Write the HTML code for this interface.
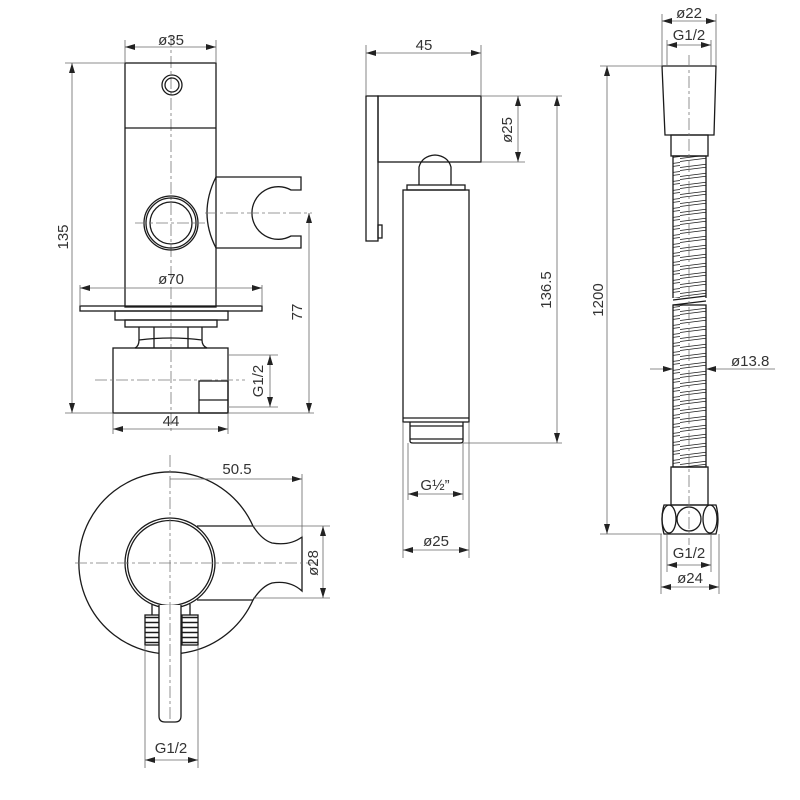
<!DOCTYPE html>
<html><head><meta charset="utf-8"><style>
html,body{margin:0;padding:0;background:#fff}
svg{display:block}
text{font-family:"Liberation Sans",sans-serif;font-size:15px;fill:#333}
.o{fill:none;stroke:#1a1a1a;stroke-width:1.3}
.ow{fill:#fff;stroke:#1a1a1a;stroke-width:1.3}
.d{fill:none;stroke:#666;stroke-width:0.8}
.c{fill:none;stroke:#777;stroke-width:0.8;stroke-dasharray:12 3 3 3}
</style></head><body>
<svg width="800" height="800" viewBox="0 0 800 800" xmlns="http://www.w3.org/2000/svg">
<defs>
<marker id="a" viewBox="0 0 10 6" refX="10" refY="3" markerWidth="10" markerHeight="6" orient="auto-start-reverse" markerUnits="userSpaceOnUse"><path d="M0,0L10,3L0,6z" fill="#222"/></marker>
<pattern id="coil" patternUnits="userSpaceOnUse" x="0" y="0" width="40" height="9">
<path d="M0,5.5L40,0.5M0,8.5L40,3.5" stroke="#1a1a1a" stroke-width="0.8" fill="none"/>
</pattern>
<pattern id="thr" patternUnits="userSpaceOnUse" x="0" y="615" width="40" height="5">
<path d="M0,2.5H40" stroke="#1a1a1a" stroke-width="1.6" fill="none"/>
</pattern>
</defs>

<!-- ===== LEFT FRONT VIEW ===== -->
<line class="c" x1="171" y1="35" x2="171" y2="432"/>
<rect class="o" x="125" y="63" width="91" height="244"/>
<line class="o" x1="125" y1="128" x2="216" y2="128"/>
<circle class="o" cx="172" cy="85" r="10"/><circle class="o" cx="172" cy="85" r="7"/>
<circle class="o" cx="171" cy="223" r="27"/><circle class="o" cx="171" cy="223" r="25"/><circle class="o" cx="171" cy="223" r="21"/>
<line class="c" x1="135" y1="223" x2="205" y2="223"/>
<path class="o" d="M216,177H301V190H291A26.3 26.3 0 1 0 291,236H301V248H216"/>
<path class="o" d="M216,177Q198,213 216,248"/>
<line class="c" x1="205" y1="213" x2="312" y2="213"/>
<rect class="o" x="80" y="306" width="182" height="5"/>
<rect class="o" x="115" y="311" width="113" height="9"/>
<rect class="o" x="125" y="320" width="92" height="7"/>
<path class="o" d="M139,327V340Q139,346 135,348H207Q202,346 202,340V327"/>
<line class="o" x1="154" y1="327" x2="154" y2="348"/><line class="o" x1="188" y1="327" x2="188" y2="348"/>
<path class="o" d="M139,340Q171,336 202,340"/>
<rect class="o" x="113" y="348" width="115" height="65"/>
<rect class="o" x="199" y="381" width="29" height="32"/>
<line class="o" x1="199" y1="400" x2="228" y2="400"/>
<line class="c" x1="95" y1="380" x2="245" y2="380"/>
<!-- dims -->
<line class="d" x1="125" y1="40" x2="125" y2="63"/><line class="d" x1="216" y1="40" x2="216" y2="63"/>
<line class="d" x1="125" y1="47" x2="216" y2="47" marker-start="url(#a)" marker-end="url(#a)"/>
<text x="171" y="45" text-anchor="middle">ø35</text>
<line class="d" x1="65" y1="63" x2="125" y2="63"/><line class="d" x1="65" y1="413" x2="113" y2="413"/>
<line class="d" x1="72" y1="63" x2="72" y2="413" marker-start="url(#a)" marker-end="url(#a)"/>
<text transform="translate(68,237) rotate(-90)" text-anchor="middle">135</text>
<line class="d" x1="80" y1="285" x2="80" y2="306"/><line class="d" x1="262" y1="285" x2="262" y2="306"/>
<line class="d" x1="80" y1="288" x2="262" y2="288" marker-start="url(#a)" marker-end="url(#a)"/>
<text x="171" y="284" text-anchor="middle">ø70</text>
<line class="d" x1="228" y1="355" x2="278" y2="355"/><line class="d" x1="228" y1="407" x2="278" y2="407"/>
<line class="d" x1="270" y1="355" x2="270" y2="407" marker-start="url(#a)" marker-end="url(#a)"/>
<text transform="translate(263,381) rotate(-90)" text-anchor="middle">G1/2</text>
<line class="d" x1="228" y1="413" x2="314" y2="413"/>
<line class="d" x1="309" y1="213" x2="309" y2="413" marker-start="url(#a)" marker-end="url(#a)"/>
<text transform="translate(302,312) rotate(-90)" text-anchor="middle">77</text>
<line class="d" x1="113" y1="413" x2="113" y2="434"/><line class="d" x1="228" y1="413" x2="228" y2="434"/>
<line class="d" x1="113" y1="429" x2="228" y2="429" marker-start="url(#a)" marker-end="url(#a)"/>
<text x="171" y="426" text-anchor="middle">44</text>

<!-- ===== TOP VIEW (bottom-left) ===== -->
<path class="o" d="M253,526A91 91 0 1 0 253,600"/>
<path class="o" d="M197,526H253Q262,540 272,543Q290,546 302,537V591Q290,580 272,583Q262,586 253,600H197"/>
<circle class="ow" cx="170" cy="563" r="45"/><circle class="o" cx="170" cy="563" r="42.5"/>
<line class="o" x1="152" y1="604" x2="152" y2="615"/><line class="o" x1="190" y1="604" x2="190" y2="615"/>
<rect x="145" y="615" width="14" height="30" fill="url(#thr)" stroke="#1a1a1a" stroke-width="1.3"/>
<rect x="182" y="615" width="16" height="30" fill="url(#thr)" stroke="#1a1a1a" stroke-width="1.3"/>
<path class="ow" d="M159,605V716Q159,722 165,722H175Q181,722 181,716V605"/>
<line class="c" x1="170" y1="455" x2="170" y2="722"/>
<line class="c" x1="75" y1="563" x2="320" y2="563"/>
<line class="d" x1="170" y1="479" x2="302" y2="479" marker-end="url(#a)"/>
<line class="d" x1="302" y1="474" x2="302" y2="537"/>
<text x="237" y="474" text-anchor="middle">50.5</text>
<line class="d" x1="253" y1="526" x2="330" y2="526"/><line class="d" x1="253" y1="598" x2="330" y2="598"/>
<line class="d" x1="323" y1="526" x2="323" y2="598" marker-start="url(#a)" marker-end="url(#a)"/>
<text transform="translate(318,563) rotate(-90)" text-anchor="middle">ø28</text>
<line class="d" x1="145" y1="645" x2="145" y2="768"/><line class="d" x1="198" y1="645" x2="198" y2="768"/>
<line class="d" x1="145" y1="760" x2="198" y2="760" marker-start="url(#a)" marker-end="url(#a)"/>
<text x="171" y="753" text-anchor="middle">G1/2</text>

<!-- ===== HANDSET ===== -->
<rect class="o" x="366" y="96" width="12" height="145"/>
<rect class="o" x="378" y="225" width="4" height="13"/>
<rect class="o" x="378" y="96" width="103" height="66"/>
<path class="o" d="M419,185V167Q422,156 435,155Q448,156 451,167V185"/>
<rect class="o" x="407" y="185" width="58" height="5"/>
<rect class="o" x="403" y="190" width="66" height="232"/>
<line class="o" x1="403" y1="418" x2="469" y2="418"/>
<path class="o" d="M410,422V441Q410,443 413,443H460Q463,443 463,441V422"/>
<line class="o" x1="410" y1="426" x2="463" y2="426"/><line class="o" x1="410" y1="439" x2="463" y2="439"/>
<line class="d" x1="366" y1="45" x2="366" y2="96"/><line class="d" x1="481" y1="45" x2="481" y2="96"/>
<line class="d" x1="366" y1="53" x2="481" y2="53" marker-start="url(#a)" marker-end="url(#a)"/>
<text x="424" y="50" text-anchor="middle">45</text>
<line class="d" x1="481" y1="96" x2="562" y2="96"/><line class="d" x1="481" y1="162" x2="525" y2="162"/>
<line class="d" x1="518" y1="96" x2="518" y2="162" marker-start="url(#a)" marker-end="url(#a)"/>
<text transform="translate(512,130) rotate(-90)" text-anchor="middle">ø25</text>
<line class="d" x1="463" y1="443" x2="562" y2="443"/>
<line class="d" x1="557" y1="96" x2="557" y2="443" marker-start="url(#a)" marker-end="url(#a)"/>
<text transform="translate(551,290) rotate(-90)" text-anchor="middle">136.5</text>
<line class="d" x1="408" y1="443" x2="408" y2="500"/><line class="d" x1="463" y1="443" x2="463" y2="500"/>
<line class="d" x1="408" y1="494" x2="463" y2="494" marker-start="url(#a)" marker-end="url(#a)"/>
<text x="435" y="490" text-anchor="middle">G½”</text>
<line class="d" x1="403" y1="422" x2="403" y2="558"/><line class="d" x1="469" y1="422" x2="469" y2="558"/>
<line class="d" x1="403" y1="550" x2="469" y2="550" marker-start="url(#a)" marker-end="url(#a)"/>
<text x="436" y="546" text-anchor="middle">ø25</text>

<!-- ===== HOSE ===== -->
<path class="o" d="M662,66H716L714,135H665Z"/>
<rect class="o" x="671" y="135" width="37" height="21"/>
<rect x="673" y="156" width="33" height="143" fill="url(#coil)" stroke="#1a1a1a" stroke-width="1.3"/>
<rect x="673" y="305" width="33" height="162" fill="url(#coil)" stroke="#1a1a1a" stroke-width="1.3"/>
<rect x="670" y="298" width="40" height="6" fill="#fff"/>
<path class="o" d="M673,300L706,296M673,305L706,301"/>
<rect class="o" x="671" y="467" width="37" height="38"/>
<path class="o" d="M664,505H716Q720,519 716,534H664Q660,519 664,505Z"/>
<ellipse class="o" cx="669" cy="519" rx="7" ry="14"/>
<circle class="o" cx="689" cy="519" r="12"/>
<ellipse class="o" cx="710" cy="519" rx="7" ry="14"/>
<line class="c" x1="689" y1="55" x2="689" y2="545"/>
<line class="d" x1="662" y1="14" x2="662" y2="66"/><line class="d" x1="716" y1="14" x2="716" y2="66"/>
<line class="d" x1="662" y1="21" x2="716" y2="21" marker-start="url(#a)" marker-end="url(#a)"/>
<text x="689" y="18" text-anchor="middle">ø22</text>
<line class="d" x1="667" y1="40" x2="667" y2="66"/><line class="d" x1="711" y1="40" x2="711" y2="66"/>
<line class="d" x1="667" y1="45" x2="711" y2="45" marker-start="url(#a)" marker-end="url(#a)"/>
<text x="689" y="40" text-anchor="middle">G1/2</text>
<line class="d" x1="600" y1="66" x2="662" y2="66"/><line class="d" x1="600" y1="534" x2="662" y2="534"/>
<line class="d" x1="607" y1="66" x2="607" y2="534" marker-start="url(#a)" marker-end="url(#a)"/>
<text transform="translate(603,300) rotate(-90)" text-anchor="middle">1200</text>
<line class="d" x1="650" y1="369" x2="673" y2="369" marker-end="url(#a)"/>
<line class="d" x1="775" y1="369" x2="706" y2="369" marker-end="url(#a)"/>
<text x="731" y="366">ø13.8</text>
<line class="d" x1="667" y1="534" x2="667" y2="572"/><line class="d" x1="711" y1="534" x2="711" y2="572"/>
<line class="d" x1="667" y1="565" x2="711" y2="565" marker-start="url(#a)" marker-end="url(#a)"/>
<text x="689" y="558" text-anchor="middle">G1/2</text>
<line class="d" x1="661" y1="534" x2="661" y2="594"/><line class="d" x1="719" y1="534" x2="719" y2="594"/>
<line class="d" x1="661" y1="587" x2="719" y2="587" marker-start="url(#a)" marker-end="url(#a)"/>
<text x="690" y="583" text-anchor="middle">ø24</text>
</svg>
</body></html>
